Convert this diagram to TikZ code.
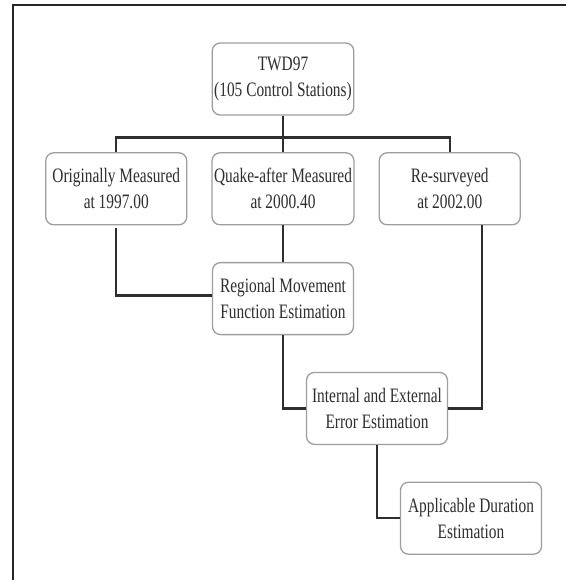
\documentclass[tikz,border=0pt]{standalone}
\usepackage{fontspec}
\newfontfamily\boxfont[FakeStretch=0.75]{Liberation Serif}
\usetikzlibrary{positioning,calc}
\tikzset{
  % rounded step box
  stepbox/.style = {rectangle, rounded corners=8pt, draw=black!38, line width=1.3pt,
                    fill=white, align=center, inner sep=2pt,
                    minimum width=141pt, minimum height=72pt,
                    text=black!82, font=\boxfont\fontsize{20.5}{26}\selectfont},
  % tree connectors
  link/.style    = {line width=2.3pt, black!82},
  % page frame
  frame/.style   = {line width=2.4pt, black!85},
}
\begin{document}
\begin{tikzpicture}[x=1pt, y=-1pt, node distance=36.5pt and 24pt]

  \useasboundingbox (0,0) rectangle (566,580);

  % --- frame (top and left edge only) ---
  \coordinate (fbl) at (13,580);
  \coordinate (ftl) at (13,5);
  \coordinate (ftr) at (566,5);
  \draw[frame] (fbl) -- (ftl) -- (ftr);

  % --- top: data set ---
  \node[stepbox] (twd) at (283,79) {TWD97\\(105 Control Stations)};

  % --- three survey epochs ---
  \node[stepbox, below=of twd] (quake) {Quake-after Measured\\at 2000.40};
  \node[stepbox, left=of quake] (orig) {Originally Measured\\at 1997.00};
  \node[stepbox, right=of quake] (resurv) {Re-surveyed\\at 2002.00};

  % --- estimation steps ---
  \node[stepbox, below=of quake] (reg) {Regional Movement\\Function Estimation};
  \node[stepbox, below=of reg, xshift=94pt] (err) {Internal and External\\Error Estimation};
  \node[stepbox, below=of err, xshift=94pt] (dur) {Applicable Duration\\Estimation};

  % data set -> each epoch
  \draw[link] (twd.south) -- ++(0,22) -| (orig.north);
  \draw[link] (twd.south) -- ++(0,22) -| (quake.north);
  \draw[link] (twd.south) -- ++(0,22) -| (resurv.north);

  % epochs -> estimations
  \draw[link] ([yshift=-3pt]orig.south) |- ([yshift=3pt]reg.west);
  \draw[link] (quake) -- (reg);
  \draw[link] (reg.south) |- (err.west);
  \draw[link] (err.east) -| ([xshift=32pt]resurv.south);
  \draw[link] (err.south) |- (dur.west);

\end{tikzpicture}
\end{document}
